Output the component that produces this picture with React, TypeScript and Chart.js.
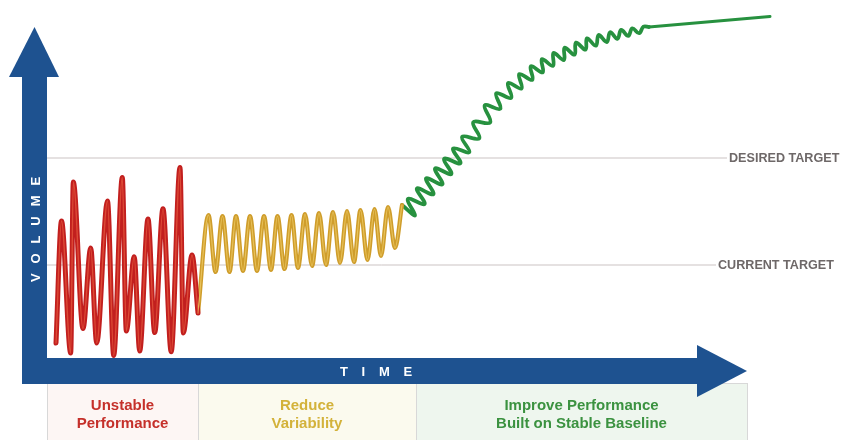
import React, { useEffect, useRef } from "react";
import { Chart, registerables } from "chart.js";

Chart.register(...registerables);

// ---- data (time units 0..700, volume units 0..350) ----
const redTime = [9, 14.5, 23.7, 26.3, 36, 43.7, 49.7, 60.5, 66.7, 75.3, 79.3, 87.2, 92.7, 101, 107.7, 116, 124.2, 133, 136.3, 145, 151];
const redVolume = [15, 137, 5, 176, 29.5, 110, 15, 157, 2.5, 180.5, 27, 101.3, 7, 139, 25.5, 149.3, 6.3, 190.5, 25, 103, 45];

const goldTime = [151, 161.5, 168.5, 175.5, 182.5, 189, 196, 203, 210, 217, 224, 230.5, 237.5, 244.5, 251, 258, 265, 272, 279, 286, 293, 300, 307, 313.5, 320.5, 327.5, 334, 341, 348, 355];
const goldVolume = [45, 143, 86, 142, 86, 142, 87, 142, 87, 142, 88, 142, 89, 143, 90, 144, 92, 145, 93, 146, 95, 147, 96, 148, 98, 149, 102, 151, 110, 153];

const greenTime = [355, 368.1, 360.9, 377.6, 369.9, 386.4, 379.1, 395.4, 388.1, 404.3, 397.2, 413.4, 406.1, 422.4, 415.1, 432.3, 426.2, 443.2, 437.7, 453.3, 449.2, 464.2, 461.0, 474.5, 472.2, 485.3, 483.8, 495.7, 494.9, 506.0, 506.5, 516.9, 517.6, 527.5, 529.0, 538.5, 540.0, 548.9, 551.6, 559.8, 563.1, 570.4, 574.2, 581.2, 585.3, 592.1, 596.5, 602];
const greenVolume = [153, 142.6, 159.0, 154.0, 169.5, 163.8, 179.6, 173.7, 189.5, 183.9, 199.2, 194.7, 209.5, 205.8, 221.1, 219.7, 235.8, 235.6, 252.6, 249.2, 264.7, 260.1, 274.9, 269.6, 283.9, 278.1, 291.8, 285.6, 298.9, 292.2, 305.0, 297.9, 310.3, 303.3, 315.4, 308.3, 319.7, 312.3, 323.0, 315.9, 325.8, 319.2, 328.1, 322.1, 329.7, 324.8, 331.3, 331];

const greenTailTime = [602, 723];
const greenTailVolume = [331, 341.5];

const desiredTargetTime = [0, 680];
const desiredTargetValue = 200;
const currentTargetTime = [0, 669];
const currentTargetValue = 93;

const targetLabels = ["DESIRED TARGET", "CURRENT TARGET"];
const phaseBounds = [0, 151, 369, 700];
const phaseLabels = [
  ["Unstable", "Performance"],
  ["Reduce", "Variability"],
  ["Improve Performance", "Built on Stable Baseline"],
];
const yAxisTitle = "VOLUME";
const xAxisTitle = "TIME";

// ---- styles ----
const BLUE = "#1e5290";
const FONT = "'Liberation Sans', Arial, sans-serif";
const phaseFills = ["#fdf6f4", "#fbfaee", "#eef6ee"];
const phaseText = ["#c5302a", "#d3b23a", "#3b9240"];

const pts = (xs: number[], ys: number[]) => xs.map((x, i) => ({ x, y: ys[i] }));
const flat = (xs: number[], v: number) => xs.map((x) => ({ x, y: v }));

function spacedText(ctx: CanvasRenderingContext2D, text: string, cx: number, cy: number, gap: number) {
  const chars = text.split("");
  const widths = chars.map((c) => ctx.measureText(c).width);
  const total = widths.reduce((s, w) => s + w, 0) + gap * (chars.length - 1);
  let xx = cx - total / 2;
  ctx.textAlign = "left";
  chars.forEach((c, i) => {
    ctx.fillText(c, xx, cy);
    xx += widths[i] + gap;
  });
}

const diagramPlugin = {
  id: "diagram",
  beforeDatasetsDraw(chart: any) {
    const { ctx, chartArea: a, scales } = chart;
    const xs = scales.x;
    const H = chart.height;
    const shaftTop = a.bottom;
    const shaftBot = a.bottom + 26;
    ctx.save();
    // phase panels
    for (let i = 0; i < 3; i++) {
      const x0 = Math.round(xs.getPixelForValue(phaseBounds[i]));
      const x1 = Math.round(xs.getPixelForValue(phaseBounds[i + 1]));
      ctx.fillStyle = phaseFills[i];
      ctx.fillRect(x0, shaftBot, x1 - x0, H - shaftBot);
      ctx.strokeStyle = "#d8d8d8";
      ctx.lineWidth = 1;
      ctx.strokeRect(x0 + 0.5, shaftBot - 0.5, x1 - x0, H - shaftBot + 10);
      ctx.fillStyle = phaseText[i];
      ctx.font = `bold 15px ${FONT}`;
      ctx.textAlign = "center";
      ctx.textBaseline = "middle";
      const cx = (x0 + x1) / 2;
      ctx.fillText(phaseLabels[i][0], cx, 406);
      ctx.fillText(phaseLabels[i][1], cx, 424);
    }
    // y arrow
    ctx.fillStyle = BLUE;
    ctx.fillRect(a.left - 25, 77, 25, shaftBot - 77);
    ctx.beginPath();
    ctx.moveTo(a.left - 38, 77);
    ctx.lineTo(a.left + 12, 77);
    ctx.lineTo(a.left - 12.5, 27);
    ctx.closePath();
    ctx.fill();
    // x arrow
    const headBase = a.right - 50;
    ctx.fillRect(a.left - 25, shaftTop, headBase - (a.left - 25), 26);
    ctx.beginPath();
    ctx.moveTo(headBase, shaftTop - 13);
    ctx.lineTo(headBase, shaftBot + 13);
    ctx.lineTo(a.right, (shaftTop + shaftBot) / 2);
    ctx.closePath();
    ctx.fill();
    // axis titles
    ctx.fillStyle = "#ffffff";
    ctx.font = `bold 13px ${FONT}`;
    ctx.textBaseline = "middle";
    spacedText(ctx, xAxisTitle, 376, (shaftTop + shaftBot) / 2 + 1, 13.7);
    ctx.save();
    ctx.translate(a.left - 12, 229.5);
    ctx.rotate(-Math.PI / 2);
    spacedText(ctx, yAxisTitle, 0, 1, 9.9);
    ctx.restore();
    ctx.restore();
  },
  afterDatasetsDraw(chart: any) {
    const { ctx, scales } = chart;
    const xs = scales.x;
    const ys = scales.y;
    ctx.save();
    ctx.fillStyle = "#6e6868";
    ctx.font = `bold 12.6px ${FONT}`;
    ctx.textAlign = "left";
    ctx.textBaseline = "middle";
    ctx.fillText(targetLabels[0], xs.getPixelForValue(desiredTargetTime[1]) + 2, ys.getPixelForValue(desiredTargetValue) + 1);
    ctx.fillText(targetLabels[1], xs.getPixelForValue(currentTargetTime[1]) + 2, ys.getPixelForValue(currentTargetValue) + 1);
    ctx.restore();
  },
};

export default function App() {
  const ref = useRef<HTMLCanvasElement | null>(null);
  useEffect(() => {
    if (!ref.current) return;
    const common = { pointRadius: 0, pointHoverRadius: 0, fill: false, clip: false as any, borderCapStyle: "round" as const, borderJoinStyle: "round" as const };
    const chart = new Chart(ref.current, {
      type: "line",
      data: {
        datasets: [
          { ...common, label: "Unstable", data: pts(redTime, redVolume), borderColor: "#dc4a36", borderWidth: 1.4, cubicInterpolationMode: "monotone", order: 1 },
          { ...common, label: "Unstable base", data: pts(redTime, redVolume), borderColor: "#c21f1e", borderWidth: 5, cubicInterpolationMode: "monotone", order: 2 },
          { ...common, label: "Reduce", data: pts(goldTime, goldVolume), borderColor: "#e8c25a", borderWidth: 1.2, cubicInterpolationMode: "monotone", order: 1 },
          { ...common, label: "Reduce base", data: pts(goldTime, goldVolume), borderColor: "#cf9d2b", borderWidth: 4.2, cubicInterpolationMode: "monotone", order: 2 },
          { ...common, label: "Improve", data: pts(greenTime, greenVolume), borderColor: "#27913f", borderWidth: 3.8, tension: 0.4, order: 2 },
          { ...common, label: "Improve tail", data: pts(greenTailTime, greenTailVolume), borderColor: "#27913f", borderWidth: 3, tension: 0, order: 2 },
          { ...common, label: "Desired target", data: flat(desiredTargetTime, desiredTargetValue), borderColor: "#cbc3c3", borderWidth: 1, borderCapStyle: "butt", order: 10 },
          { ...common, label: "Current target", data: flat(currentTargetTime, currentTargetValue), borderColor: "#cbc3c3", borderWidth: 1, borderCapStyle: "butt", order: 10 },
        ],
      },
      options: {
        animation: false,
        responsive: false,
        devicePixelRatio: 1,
        layout: { padding: { left: 47, right: 106, top: 8, bottom: 82 } },
        scales: {
          x: { type: "linear", min: 0, max: 700, display: false },
          y: { type: "linear", min: 0, max: 350, display: false },
        },
        plugins: { legend: { display: false }, tooltip: { enabled: false } },
        events: [],
      },
      plugins: [diagramPlugin],
    });
    return () => chart.destroy();
  }, []);
  return (
    <div style={{ position: "absolute", left: 0, top: 0, width: 853, height: 440, background: "#ffffff" }}>
      <canvas ref={ref} width={853} height={440} style={{ display: "block" }} />
    </div>
  );
}
